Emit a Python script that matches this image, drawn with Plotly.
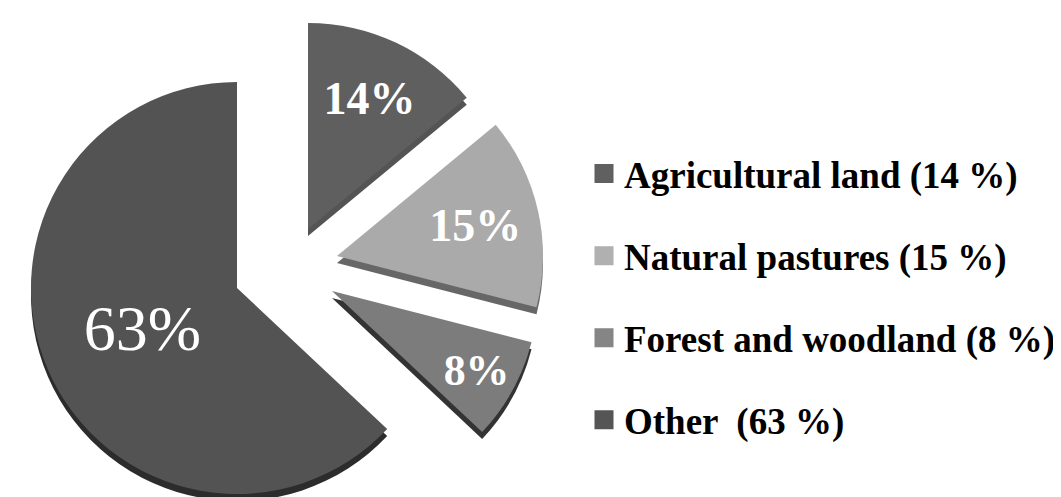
import plotly.graph_objects as go

# ---- data ----
labels = ["Agricultural land (14 %)", "Natural pastures (15 %)", "Forest and woodland (8 %)", "Other  (63 %)"]
values = [14, 15, 8, 63]
slice_text = [f"{v}%" for v in values]

# ---- styles ----
face_colors = ["#5f5f5f", "#aaaaaa", "#7c7c7c", "#535353"]
side_colors = ["#545454", "#676767", "#333333", "#2c2c2c"]
legend_colors = ["#606060", "#b0b0b0", "#858585", "#555555"]
text_sizes = [46, 46, 44, 64]
text_bold = [True, True, True, False]

W, H = 1061, 497
R = 206
DEPTH = 7
# apex (pie centre) of each exploded slice, in pixels (x from left, y from top)
centres = [(300, 221), (329, 248), (324, 283), (229, 280)]

FONT = "Liberation Serif"


def clamp(v):
    return min(1.0, max(0.0, v))


def domain(cx, cy, r=R):
    return dict(x=[clamp((cx - r) / W), clamp((cx + r) / W)],
                y=[clamp(1 - (cy + r) / H), clamp(1 - (cy - r) / H)])


fig = go.Figure()
clear = "rgba(0,0,0,0)"

# side (3D depth) layers first
for i in range(len(values)):
    cx, cy = centres[i]
    fig.add_trace(go.Pie(
        values=values, labels=labels, sort=False, direction="clockwise", rotation=0,
        marker=dict(colors=[side_colors[i] if j == i else clear for j in range(len(values))],
                    line=dict(width=0)),
        textinfo="none", hoverinfo="skip", showlegend=False,
        domain=domain(cx, cy + DEPTH),
    ))

# top faces
for i in range(len(values)):
    cx, cy = centres[i]
    txt = [("<b>%s</b>" % slice_text[j] if text_bold[j] else slice_text[j]) if j == i else ""
           for j in range(len(values))]
    fig.add_trace(go.Pie(
        values=values, labels=labels, sort=False, direction="clockwise", rotation=0,
        marker=dict(colors=[face_colors[i] if j == i else clear for j in range(len(values))],
                    line=dict(width=0)),
        text=txt, textinfo="text", textposition="inside", insidetextorientation="horizontal",
        textfont=dict(family=FONT, size=text_sizes[i], color="white"),
        hoverinfo="skip", showlegend=False,
        domain=domain(cx, cy),
    ))

# legend entries
for i, lab in enumerate(labels):
    fig.add_trace(go.Scatter(
        x=[None], y=[None], mode="markers", name=lab, legendgroup=lab,
        marker=dict(symbol="square", size=16, color=legend_colors[i],
                    line=dict(width=3, color=legend_colors[i])),
    ))

fig.update_layout(
    width=W, height=H,
    margin=dict(l=0, r=0, t=0, b=0),
    paper_bgcolor="white", plot_bgcolor="white",
    xaxis=dict(visible=False), yaxis=dict(visible=False),
    showlegend=True,
    legend=dict(x=576 / W, xanchor="left", y=1 - 289 / H, yanchor="middle",
                font=dict(family=FONT, size=37, color="black", weight="bold"),
                tracegroupgap=31, bgcolor="rgba(0,0,0,0)", itemclick=False),
    font=dict(family=FONT),
)

fig.write_html("out.html")
